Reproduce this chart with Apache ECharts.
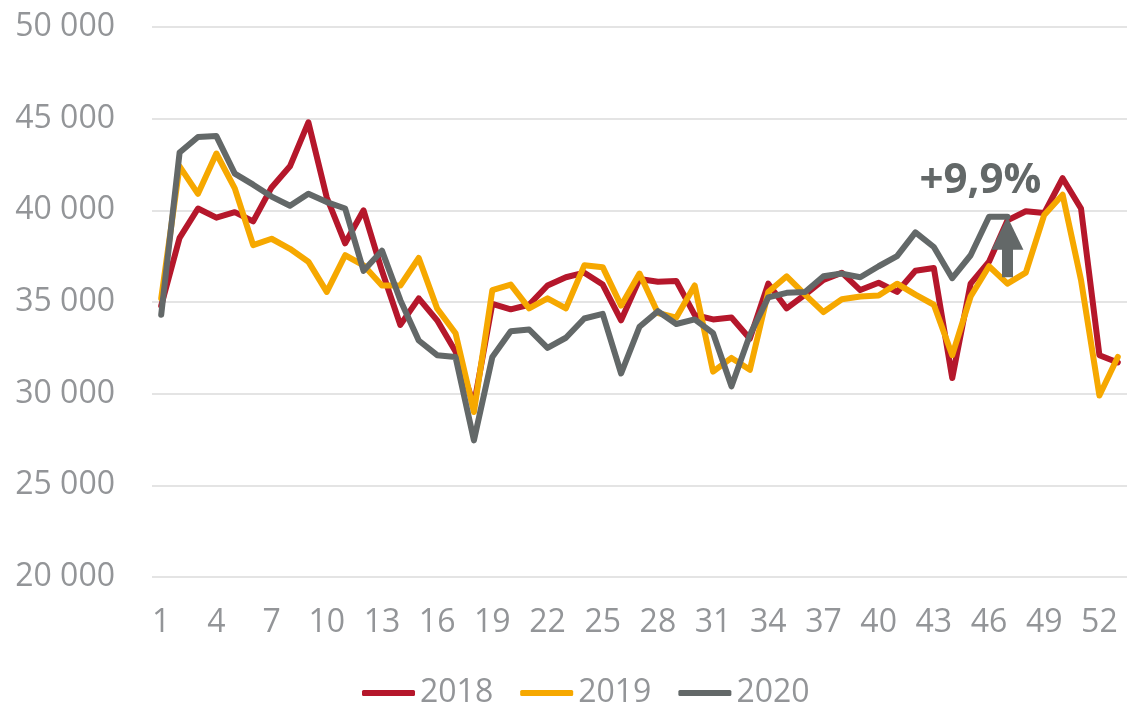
<!DOCTYPE html>
<html>
<head>
<meta charset="utf-8">
<script src="https://cdn.jsdelivr.net/npm/echarts@6/dist/echarts.min.js"></script>
<style>
  html, body { margin: 0; padding: 0; background: #fff; }
  #chart { width: 1127px; height: 706px; }
</style>
</head>
<body>
<div id="chart"></div>
<script>
const weeks = ['1','2','3','4','5','6','7','8','9','10','11','12','13','14','15','16','17','18','19','20',
  '21','22','23','24','25','26','27','28','29','30','31','32','33','34','35','36','37','38','39','40',
  '41','42','43','44','45','46','47','48','49','50','51','52','53']

const y2018 = [34800, 38500, 40100, 39600, 39900, 39400, 41250, 42400, 44800, 40700,
  38200, 40000, 36700, 33750, 35200, 34000, 32300, 29400, 34900, 34600,
  34850, 35900, 36350, 36600, 35950, 34000, 36250, 36100, 36150, 34300,
  34050, 34150, 33000, 36000, 34650, 35400, 36200, 36600, 35650, 36050,
  35550, 36700, 36850, 30850, 36000, 37200, 39450, 39950, 39850, 41750,
  40100, 32100, 31700]

const y2019 = [35200, 42400, 40900, 43100, 41200, 38100, 38450, 37900, 37200, 35550,
  37550, 37000, 35900, 35900, 37400, 34650, 33300, 29000, 35650, 35950,
  34650, 35200, 34650, 37000, 36900, 34800, 36550, 34400, 34150, 35900,
  31200, 31950, 31300, 35550, 36400, 35400, 34450, 35150, 35300, 35350,
  36000, 35400, 34850, 32100, 35300, 36950, 36000, 36600, 39750, 40850,
  36200, 29900, 32000]

const y2020 = [34300, 43150, 44000, 44050, 42000, 41400, 40750, 40250, 40900, 40450,
  40100, 36700, 37800, 35100, 32900, 32100, 32000, 27450, 32000, 33400,
  33500, 32500, 33050, 34100, 34350, 31100, 33650, 34500, 33800, 34050,
  33300, 30400, 33200, 35250, 35500, 35550, 36400, 36550, 36350, 36950,
  37500, 38800, 38000, 36300, 37550, 39650, 39650]

// annotation: arrow at week 47 and the growth label
const arrowWeek = '47'
const arrowBase = 36350
const arrowHead = 38750
const growthText = '+9,9%'

const FONT = '"Open Sans", "Liberation Sans", sans-serif'
const GREY_TEXT = '#939598'
const RED = '#B5172B'
const ORANGE = '#F6A800'
const GREY = '#636868'

function makeSeries(name, data, color) {
  return {
    name: name,
    type: 'line',
    data: data,
    showSymbol: false,
    symbol: 'none',
    lineStyle: { color: color, width: 6, cap: 'round', join: 'round' },
    itemStyle: { color: color }
  }
}

let myCharts = echarts.init(document.getElementById('chart'), null, { renderer: 'canvas' })

let s2020 = makeSeries('2020', y2020, GREY)
s2020.markLine = {
  silent: true,
  symbol: ['none', 'triangle'],
  symbolSize: [32, 33],
  lineStyle: { color: GREY, width: 11, type: 'solid', cap: 'butt' },
  label: { show: false },
  data: [[{ coord: [arrowWeek, arrowBase] }, { coord: [arrowWeek, arrowHead] }]]
}
s2020.markPoint = {
  silent: true,
  symbol: 'circle',
  symbolSize: 0,
  label: {
    show: true,
    formatter: growthText,
    color: GREY,
    fontFamily: FONT,
    fontWeight: 'bold',
    fontSize: 42,
    offset: [-27, -36]
  },
  data: [{ coord: [arrowWeek, y2020[46]] }]
}

let options = {
  animation: false,
  grid: { left: 152, top: 27, width: 978, height: 550 },
  legend: {
    left: 357,
    top: 672,
    itemWidth: 53,
    itemHeight: 6,
    itemGap: 27,
    icon: 'roundRect',
    textStyle: { color: GREY_TEXT, fontFamily: FONT, fontSize: 32 },
    data: ['2018', '2019', '2020']
  },
  xAxis: {
    type: 'category',
    data: weeks,
    boundaryGap: true,
    axisLine: { show: false },
    axisTick: { show: false },
    axisLabel: {
      interval: 2,
      margin: 30,
      color: GREY_TEXT,
      fontFamily: FONT,
      fontSize: 32
    }
  },
  yAxis: {
    type: 'value',
    min: 20000,
    max: 50000,
    interval: 5000,
    axisLine: { show: false },
    axisTick: { show: false },
    splitLine: { lineStyle: { color: '#e4e4e4', width: 2 } },
    axisLabel: {
      margin: 37,
      color: GREY_TEXT,
      fontFamily: FONT,
      fontSize: 32,
      formatter: v => String(v).replace(/\B(?=(\d{3})+(?!\d))/g, ' ')
    }
  },
  series: [
    makeSeries('2018', y2018, RED),
    makeSeries('2019', y2019, ORANGE),
    s2020
  ]
}
myCharts.setOption(options)
</script>
</body>
</html>
